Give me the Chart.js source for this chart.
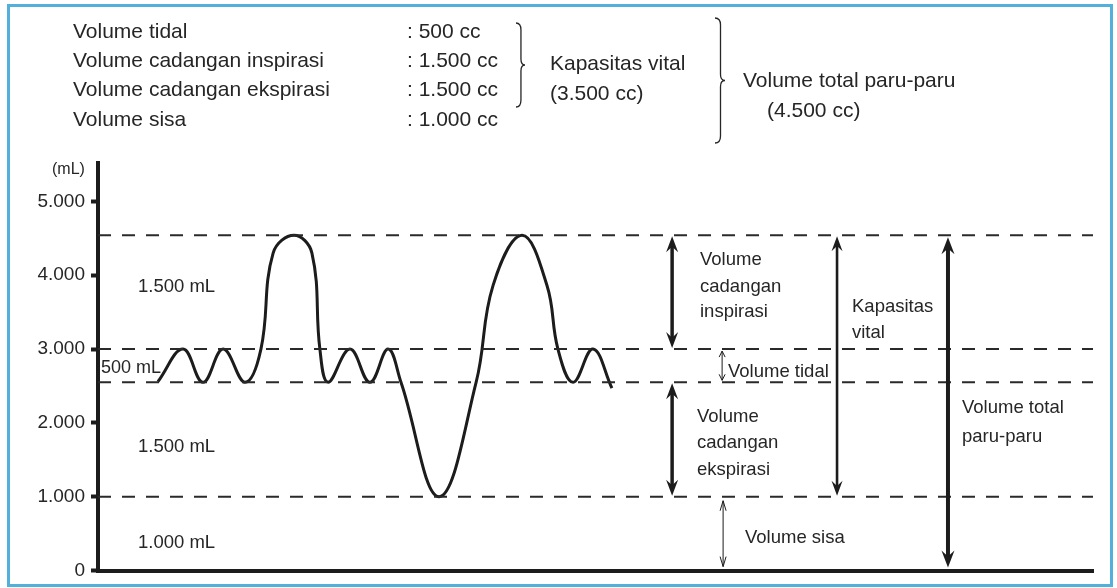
<!DOCTYPE html>
<html>
<head>
<meta charset="utf-8">
<title>Volume udara paru-paru</title>
<script src="https://cdn.jsdelivr.net/npm/chart.js@4.4.1/dist/chart.umd.min.js"></script>
<style>
    html, body { margin: 0; padding: 0; background: #ffffff; }
    #wrap { width: 1117px; height: 588px; }
</style>
</head>
<body>
<div id="wrap"><canvas id="lung-chart" width="1117" height="588"></canvas></div>
<script>
"use strict";

// Spirogram trace (time in s, volume in mL):
// peaks, troughs, level crossings and the shoulders of the deep breaths
const breathTime = [2.41, 3.42, 4.22, 5.03, 5.91, 6.55, 7.04, 7.88, 8.60, 8.92, 9.25, 10.13, 10.93, 11.66,
    12.18, 13.71, 15.20, 15.88, 17.05, 18.05, 18.49, 19.10, 19.90, 20.66];
const breathVolume = [2560, 3000, 2550, 3000, 2550, 3000, 4300, 4540, 4300, 3000, 2550, 3000, 2550, 3000,
    2550, 1000, 2550, 3860, 4540, 3860, 3000, 2550, 3000, 2470];

// Dashed reference levels (mL)
const levelValues = [4540, 3000, 2550, 1000];

// Y axis
const yTicks = [0, 1000, 2000, 3000, 4000, 5000];
const yTickLabels = ['0', '1.000', '2.000', '3.000', '4.000', '5.000'];

// Summary table at the top
const summaryLabels = ['Volume tidal', 'Volume cadangan inspirasi', 'Volume cadangan ekspirasi', 'Volume sisa'];
const summaryValues = [': 500 cc', ': 1.500 cc', ': 1.500 cc', ': 1.000 cc'];

const FONT = '"Liberation Sans", Arial, sans-serif';
const INK = '#1c1c1c';

function putText(ctx, str, x, y, size) {
    ctx.font = size + 'px ' + FONT;
    ctx.fillText(str, x, y);
}

// Bold double arrow with notched heads
function boldArrow(ctx, x, yTop, yBottom, width, len, half) {
    ctx.lineWidth = width;
    ctx.beginPath();
    ctx.moveTo(x, yTop + len * 0.6);
    ctx.lineTo(x, yBottom - len * 0.6);
    ctx.stroke();
    [[yTop, 1], [yBottom, -1]].forEach(function (h) {
        const y = h[0], d = h[1];
        ctx.beginPath();
        ctx.moveTo(x, y);
        ctx.lineTo(x + half, y + d * len);
        ctx.lineTo(x, y + d * len * 0.65);
        ctx.lineTo(x - half, y + d * len);
        ctx.closePath();
        ctx.fill();
    });
}

// Thin double arrow with open heads
function thinArrow(ctx, x, yTop, yBottom, len, half) {
    ctx.lineWidth = 1;
    ctx.beginPath();
    ctx.moveTo(x, yTop);
    ctx.lineTo(x, yBottom);
    ctx.moveTo(x - half, yTop + len);
    ctx.lineTo(x, yTop);
    ctx.lineTo(x + half, yTop + len);
    ctx.moveTo(x - half, yBottom - len);
    ctx.lineTo(x, yBottom);
    ctx.lineTo(x + half, yBottom - len);
    ctx.stroke();
}

// Curly brace opening to the left, pointing right
function brace(ctx, x, yTop, yBottom, depth) {
    const mid = (yTop + yBottom) / 2;
    const xs = x + depth * 0.55;
    ctx.lineWidth = 1.3;
    ctx.beginPath();
    ctx.moveTo(x, yTop);
    ctx.quadraticCurveTo(xs, yTop, xs, yTop + 7);
    ctx.lineTo(xs, mid - 6);
    ctx.quadraticCurveTo(xs, mid, x + depth, mid);
    ctx.quadraticCurveTo(xs, mid, xs, mid + 6);
    ctx.lineTo(xs, yBottom - 7);
    ctx.quadraticCurveTo(xs, yBottom, x, yBottom);
    ctx.stroke();
}

const lungAnnotations = {
    id: 'lungAnnotations',
    beforeDraw: function (chart) {
        const ctx = chart.ctx;
        ctx.save();
        ctx.fillStyle = '#ffffff';
        ctx.fillRect(0, 0, chart.width, chart.height);
        ctx.strokeStyle = '#52b0da';
        ctx.lineWidth = 3;
        ctx.strokeRect(8.5, 5.5, 1103, 580);
        ctx.restore();
    },
    afterDraw: function (chart) {
        const ctx = chart.ctx;
        const xs = chart.scales.x, ys = chart.scales.y;
        const px = function (t) { return xs.getPixelForValue(t); };
        const py = function (v) { return ys.getPixelForValue(v); };

        ctx.save();
        ctx.fillStyle = '#262626';
        ctx.strokeStyle = '#262626';
        ctx.textBaseline = 'middle';
        ctx.textAlign = 'left';

        // Summary table
        const rowY = [32, 61, 90, 120];
        summaryLabels.forEach(function (s, i) {
            putText(ctx, s, 73, rowY[i], 21);
            putText(ctx, summaryValues[i], 407, rowY[i], 21);
        });
        brace(ctx, 516, 23, 107, 9);
        putText(ctx, 'Kapasitas vital', 550, 64, 21);
        putText(ctx, '(3.500 cc)', 550, 94, 21);
        brace(ctx, 715, 18, 143, 10);
        putText(ctx, 'Volume total paru-paru', 743, 81, 21);
        putText(ctx, '(4.500 cc)', 767, 111, 21);

        // Unit label
        putText(ctx, '(mL)', 52, 170, 16);

        // Labels inside plot, left side
        putText(ctx, '1.500 mL', 138, 287, 18.5);
        putText(ctx, '500 mL', 101, 368, 18);
        putText(ctx, '1.500 mL', 138, 447, 18.5);
        putText(ctx, '1.000 mL', 138, 543, 18.5);

        // Arrows on the right side
        ctx.fillStyle = INK;
        ctx.strokeStyle = INK;
        boldArrow(ctx, px(23.08), py(4540) + 1, py(3000) - 1, 3.5, 16, 6);
        boldArrow(ctx, px(23.08), py(2550) + 1, py(1000) - 1, 3.5, 16, 6);
        boldArrow(ctx, px(29.71), py(4540) + 1, py(1000) - 1, 2.6, 15, 5.5);
        boldArrow(ctx, px(34.17), py(4540) + 2, py(0) - 3, 4, 17, 6.5);
        thinArrow(ctx, px(25.09), py(3000) + 2, py(2550) - 2, 6, 3);
        thinArrow(ctx, px(25.13), py(1000) + 4, py(0) - 4, 10, 3);

        // Labels on the right side
        ctx.fillStyle = '#262626';
        putText(ctx, 'Volume', 700, 260, 18.5);
        putText(ctx, 'cadangan', 700, 287, 18.5);
        putText(ctx, 'inspirasi', 700, 312, 18.5);
        putText(ctx, 'Volume tidal', 728, 372, 18.5);
        putText(ctx, 'Volume', 697, 417, 18.5);
        putText(ctx, 'cadangan', 697, 443, 18.5);
        putText(ctx, 'ekspirasi', 697, 470, 18.5);
        putText(ctx, 'Kapasitas', 852, 307, 18.5);
        putText(ctx, 'vital', 852, 333, 18.5);
        putText(ctx, 'Volume sisa', 745, 538, 18.5);
        putText(ctx, 'Volume total', 962, 408, 18.5);
        putText(ctx, 'paru-paru', 962, 437, 18.5);

        ctx.restore();
    }
};

// Build datasets: dashed levels first, trace on top
const datasets = levelValues.map(function (v) {
    return {
        data: [{ x: 0, y: v }, { x: 40, y: v }],
        borderColor: '#2a2a2a',
        borderWidth: 2,
        borderDash: [13, 11],
        pointRadius: 0,
        tension: 0,
        fill: false
    };
});
datasets.push({
    label: 'Volume paru-paru',
    data: breathTime.map(function (t, i) { return { x: t, y: breathVolume[i] }; }),
    borderColor: INK,
    borderWidth: 3,
    pointRadius: 0,
    tension: 0.4,
    fill: false
});

new Chart(document.getElementById('lung-chart'), {
    type: 'line',
    data: { datasets: datasets },
    options: {
        responsive: false,
        animation: false,
        events: [],
        layout: { padding: { top: 163, right: 24, bottom: 13, left: 0 } },
        plugins: {
            legend: { display: false },
            tooltip: { enabled: false }
        },
        scales: {
            x: {
                type: 'linear',
                min: 0,
                max: 40,
                ticks: { display: false },
                grid: { display: true, drawOnChartArea: false, drawTicks: false },
                border: { display: true, width: 4, color: INK },
                afterFit: function (scale) { scale.height = 0; }
            },
            y: {
                type: 'linear',
                min: 0,
                max: 5520,
                afterBuildTicks: function (scale) {
                    scale.ticks = yTicks.map(function (v) { return { value: v }; });
                },
                ticks: {
                    padding: 6,
                    color: '#262626',
                    font: { family: FONT, size: 19 },
                    callback: function (value) {
                        return yTickLabels[yTicks.indexOf(value)];
                    }
                },
                grid: { display: true, drawOnChartArea: false, drawTicks: true, tickLength: 7, tickWidth: 4, tickColor: INK },
                border: { display: true, width: 4, color: INK },
                afterFit: function (scale) { scale.width = 98; }
            }
        }
    },
    plugins: [lungAnnotations]
});
</script>
</body>
</html>
